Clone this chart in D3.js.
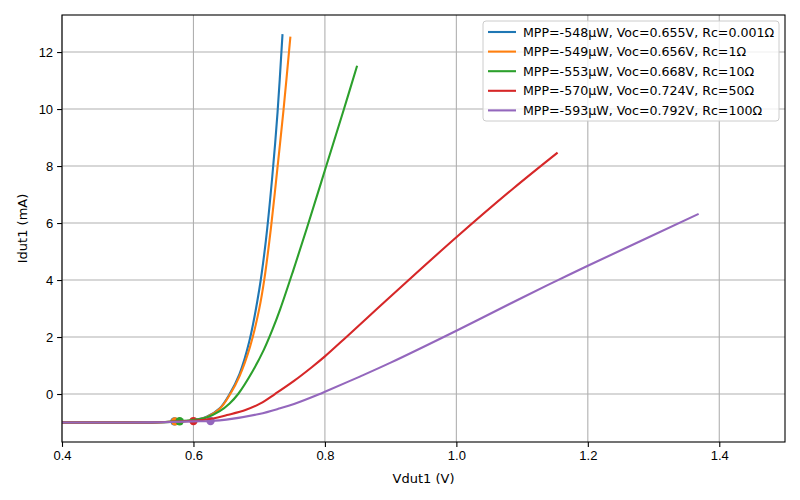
<!DOCTYPE html>
<html>
<head>
<meta charset="utf-8">
<script src="https://cdn.jsdelivr.net/npm/d3@7"></script>
<style>
  body { margin: 0; background: #fff; }
  svg { font-family: "DejaVu Sans", sans-serif; }
  .tick text { font-size: 13px; fill: #000; }
</style>
</head>
<body>
<div id="chart"></div>
<script>
// I-V curves: [Vdut1 (V), Idut1 (mA)]
const curveRc0001 = [[0.40,-1.00],[0.50,-1.00],[0.55,-0.99],[0.58,-0.96],[0.60,-0.92],[0.62,-0.80],
  [0.64,-0.50],[0.655,0.00],[0.67,0.70],[0.685,1.85],[0.70,3.65],[0.71,5.35],[0.72,7.65],[0.728,9.90],[0.7355,12.63]];
const curveRc1 = [[0.40,-1.00],[0.50,-1.00],[0.55,-0.99],[0.58,-0.96],[0.60,-0.92],[0.62,-0.81],
  [0.64,-0.52],[0.656,0.00],[0.67,0.62],[0.686,1.65],[0.70,2.98],[0.708,4.05],[0.718,5.85],[0.728,7.98],[0.737,9.96],[0.7475,12.54]];
const curveRc10 = [[0.40,-1.00],[0.50,-1.00],[0.55,-0.99],[0.58,-0.95],[0.60,-0.91],[0.62,-0.82],
  [0.64,-0.60],[0.655,-0.33],[0.668,0.00],[0.69,0.80],[0.707,1.55],[0.72,2.25],[0.732,2.98],[0.752,4.35],
  [0.773,5.85],[0.80,7.85],[0.829,10.00],[0.849,11.52]];
const curveRc50 = [[0.40,-1.00],[0.50,-1.00],[0.55,-0.99],[0.60,-0.94],[0.63,-0.86],[0.651,-0.74],
  [0.68,-0.55],[0.702,-0.33],[0.724,0.00],[0.753,0.46],[0.78,0.94],[0.80,1.32],[0.834,2.03],[0.879,2.98],
  [0.925,3.95],[1.00,5.50],[1.087,7.22],[1.154,8.47]];
const curveRc100 = [[0.40,-1.00],[0.50,-1.00],[0.55,-0.99],[0.60,-0.96],[0.626,-0.945],[0.65,-0.90],
  [0.70,-0.70],[0.732,-0.50],[0.753,-0.35],[0.792,0.00],[0.80,0.08],[0.854,0.62],[0.90,1.10],[1.00,2.22],
  [1.10,3.38],[1.153,3.98],[1.20,4.50],[1.3686,6.32]];

// maximum power points (V, mA)
const mppV = [0.571, 0.572, 0.579, 0.600, 0.626];
const mppI = [-0.96, -0.96, -0.955, -0.95, -0.947];

const labels = [
  'MPP=-548µW, Voc=0.655V, Rc=0.001Ω',
  'MPP=-549µW, Voc=0.656V, Rc=1Ω',
  'MPP=-553µW, Voc=0.668V, Rc=10Ω',
  'MPP=-570µW, Voc=0.724V, Rc=50Ω',
  'MPP=-593µW, Voc=0.792V, Rc=100Ω'
];
const colors = ['#1f77b4', '#ff7f0e', '#2ca02c', '#d62728', '#9467bd'];
const xTicks = [0.4, 0.6, 0.8, 1.0, 1.2, 1.4];
const yTicks = [0, 2, 4, 6, 8, 10, 12];

const curves = [curveRc0001, curveRc1, curveRc10, curveRc50, curveRc100];

const W = 800, H = 500;
const m = { t: 15, r: 15, b: 58, l: 62 };
const w = W - m.l - m.r, h = H - m.t - m.b;

const svg = d3.select('#chart').append('svg').attr('width', W).attr('height', H);
const g = svg.append('g').attr('transform', `translate(${m.l},${m.t})`);

const x = d3.scaleLinear().domain([0.4, 1.5]).range([0, w]);
const y = d3.scaleLinear().domain([-1.684, 13.30]).range([h, 0]);

// grid
g.append('g').selectAll('line').data(xTicks).join('line')
  .attr('x1', d => x(d)).attr('x2', d => x(d)).attr('y1', 0).attr('y2', h)
  .attr('stroke', '#b0b0b0').attr('stroke-width', 1.1);
g.append('g').selectAll('line').data(yTicks).join('line')
  .attr('x1', 0).attr('x2', w).attr('y1', d => y(d)).attr('y2', d => y(d))
  .attr('stroke', '#b0b0b0').attr('stroke-width', 1.1);

g.append('defs').append('clipPath').attr('id', 'clip')
  .append('rect').attr('width', w).attr('height', h);

const plot = g.append('g').attr('clip-path', 'url(#clip)');

// MPP markers sit under the lines
plot.append('g').selectAll('circle').data(mppV).join('circle')
  .attr('cx', d => x(d)).attr('cy', (d, i) => y(mppI[i]))
  .attr('r', 4.2).attr('fill', (d, i) => colors[i]);

const line = d3.line().x(d => x(d[0])).y(d => y(d[1])).curve(d3.curveCatmullRom.alpha(0.5));
curves.forEach((c, i) => {
  plot.append('path').datum(c)
    .attr('fill', 'none').attr('stroke', colors[i])
    .attr('stroke-width', 2.1).attr('d', line);
});

// axes
const xAxis = g.append('g').attr('transform', `translate(0,${h})`)
  .call(d3.axisBottom(x).tickValues(xTicks).tickFormat(d3.format('.1f')).tickSize(4.9).tickPadding(4));
const yAxis = g.append('g')
  .call(d3.axisLeft(y).tickValues(yTicks).tickFormat(d3.format('d')).tickSize(4.9).tickPadding(4));
[xAxis, yAxis].forEach(a => {
  a.select('.domain').remove();
  a.selectAll('.tick line').attr('stroke', '#000').attr('stroke-width', 1.1);
});

g.append('rect').attr('width', w).attr('height', h)
  .attr('fill', 'none').attr('stroke', '#000').attr('stroke-width', 1.1);

svg.append('text').attr('x', m.l + w / 2).attr('y', 483)
  .attr('text-anchor', 'middle').attr('font-size', 13).text('Vdut1 (V)');
svg.append('text').attr('transform', `translate(27,${m.t + h / 2}) rotate(-90)`)
  .attr('text-anchor', 'middle').attr('font-size', 13).text('Idut1 (mA)');

// legend
const leg = svg.append('g').attr('transform', 'translate(483,21)');
leg.append('rect').attr('width', 296).attr('height', 100).attr('rx', 3)
  .attr('fill', '#fff').attr('fill-opacity', 0.8)
  .attr('stroke', '#cccccc').attr('stroke-width', 1);
labels.forEach((lbl, i) => {
  const row = leg.append('g').attr('transform', `translate(0,${11 + i * 19.6})`);
  row.append('line').attr('x1', 5).attr('x2', 33).attr('y1', 0).attr('y2', 0)
    .attr('stroke', colors[i]).attr('stroke-width', 2.1);
  row.append('text').attr('x', 40).attr('y', 4.5).attr('font-size', 12.6).text(lbl);
});
</script>
</body>
</html>
